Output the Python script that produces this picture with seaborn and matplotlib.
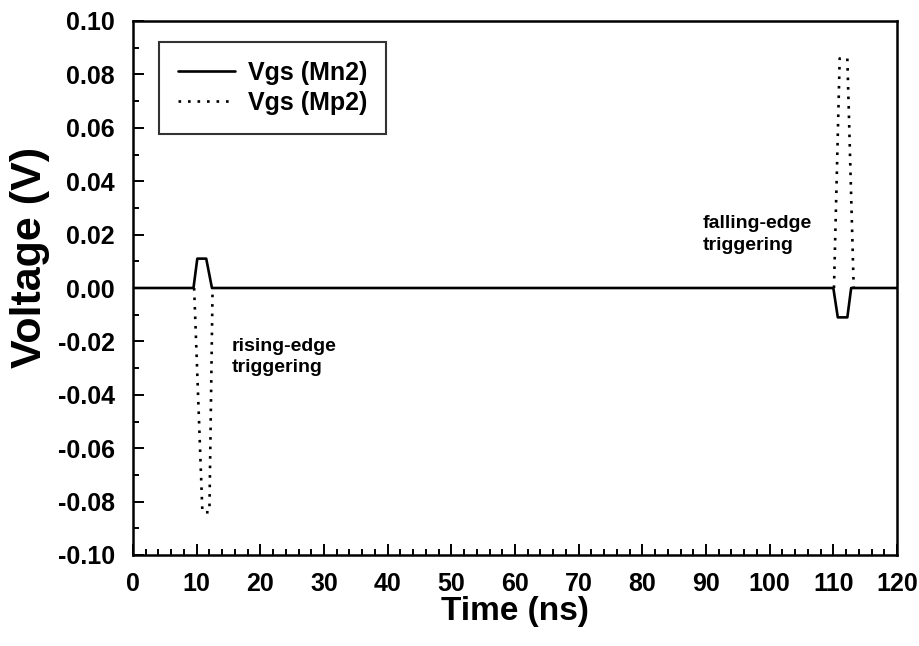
import numpy as np
import pandas as pd
import matplotlib
matplotlib.use("Agg")
import matplotlib.pyplot as plt
from matplotlib.ticker import MultipleLocator, FuncFormatter
import seaborn as sns

# Gate-source voltage transients of Mn2 and Mp2 (time in ns, voltage in V)
t_mn2 = [0.0, 9.5, 10.1, 11.5, 12.4, 110.0, 110.7, 112.2, 112.8, 120.0]
v_mn2 = [0.0, 0.0, 0.011, 0.011, 0.0, 0.0, -0.011, -0.011, 0.0, 0.0]

t_mp2_rise = [9.6, 10.9, 12.0, 12.5]
v_mp2_rise = [0.0, -0.084, -0.084, 0.0]
t_mp2_fall = [110.1, 111.0, 112.2, 113.2]
v_mp2_fall = [0.0, 0.086, 0.086, 0.0]

legend_labels = ["Vgs (Mn2)", "Vgs (Mp2)"]

sns.set_theme(style="white")
plt.rcParams["font.family"] = ["Liberation Sans", "DejaVu Sans"]
plt.rcParams["font.weight"] = "bold"
plt.rcParams["text.color"] = "black"
plt.rcParams["axes.labelcolor"] = "black"
plt.rcParams["xtick.color"] = "black"
plt.rcParams["ytick.color"] = "black"

fig = plt.figure(figsize=(9.2, 6.46), dpi=100)
ax = fig.add_axes([133 / 920, 1 - 555 / 646, (897 - 133) / 920, (555 - 21) / 646])

dotted = (0, (1, 2.6))

df_n = pd.DataFrame({"t": t_mn2, "v": v_mn2})
sns.lineplot(data=df_n, x="t", y="v", ax=ax, color="black", lw=1.9,
             label=legend_labels[0], sort=False)

df_p1 = pd.DataFrame({"t": t_mp2_rise, "v": v_mp2_rise})
df_p2 = pd.DataFrame({"t": t_mp2_fall, "v": v_mp2_fall})
sns.lineplot(data=df_p1, x="t", y="v", ax=ax, color="black", lw=1.9,
             linestyle=dotted, label=legend_labels[1], sort=False)
sns.lineplot(data=df_p2, x="t", y="v", ax=ax, color="black", lw=1.9,
             linestyle=dotted, sort=False)

ax.set_xlim(0, 120)
ax.set_ylim(-0.10, 0.10)
ax.xaxis.set_major_locator(MultipleLocator(10))
ax.xaxis.set_minor_locator(MultipleLocator(2))
ax.yaxis.set_major_locator(MultipleLocator(0.02))
ax.yaxis.set_minor_locator(MultipleLocator(0.01))
ax.yaxis.set_major_formatter(
    FuncFormatter(lambda v, pos: f"{0.0 if abs(v) < 1e-9 else v:.2f}"))

ax.tick_params(which="both", direction="in", top=False, right=False,
               bottom=True, left=True, color="black", width=1.4)
ax.tick_params(which="major", length=8, labelsize=18)
ax.tick_params(axis="x", which="major", pad=12)
ax.tick_params(axis="y", which="major", pad=13)
ax.tick_params(which="minor", length=4)
for lab in ax.get_xticklabels() + ax.get_yticklabels():
    lab.set_fontweight("bold")

for sp in ax.spines.values():
    sp.set_color("black")
    sp.set_linewidth(1.8)

ax.set_xlabel("Time (ns)", fontsize=24, fontweight="bold")
ax.set_ylabel("Voltage (V)", fontsize=31, fontweight="bold")
ax.xaxis.set_label_coords(0.5, -0.077)
ax.yaxis.set_label_coords(-0.109, 0.558)

ax.text(15.5, -0.0258, "rising-edge\ntriggering", fontsize=14,
        fontweight="bold", va="center", ha="left", linespacing=1.35)
ax.text(89.5, 0.0200, "falling-edge\ntriggering", fontsize=14,
        fontweight="bold", va="center", ha="left", linespacing=1.35)

leg = ax.legend(loc="upper left", bbox_to_anchor=(0.034, 0.961),
                borderaxespad=0.0,
                frameon=True, fancybox=False, edgecolor="black",
                prop={"weight": "bold", "size": 18}, handlelength=2.3,
                borderpad=0.75, labelspacing=0.25, handletextpad=0.5)
leg.get_frame().set_linewidth(1.5)
for txt in leg.get_texts():
    txt.set_color("black")

fig.savefig("out.png", dpi=100, facecolor="white")
